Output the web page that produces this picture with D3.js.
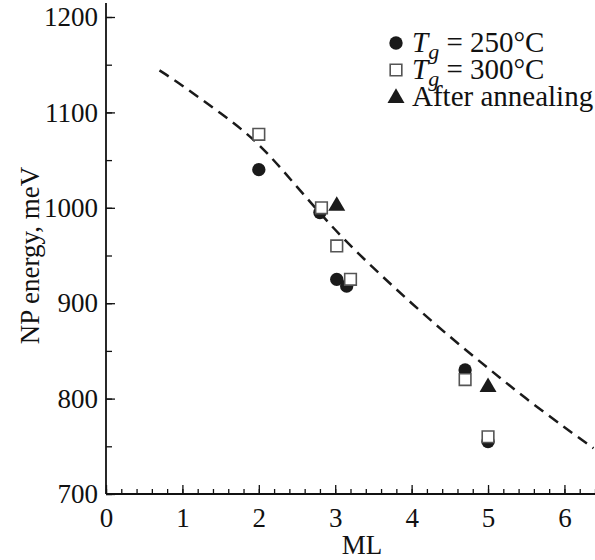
<!DOCTYPE html>
<html>
<head>
<meta charset="utf-8">
<script src="https://cdn.jsdelivr.net/npm/d3@7"></script>
<style>
  body { margin: 0; background: #fff; }
  svg text { font-family: "Liberation Serif", "Times New Roman", serif; fill: #111; }
</style>
</head>
<body>
<div id="chart"></div>
<script>
// data
var ml250 = [2.0, 2.8, 3.02, 3.15, 4.7, 5.0];
var energy250 = [1040, 995, 925, 918, 830, 755];

var ml300 = [2.0, 2.82, 3.02, 3.2, 4.7, 5.0];
var energy300 = [1077, 1000, 960, 925, 820, 760];

var mlAnneal = [3.02, 5.0];
var energyAnneal = [1003, 813];

// dashed model curve
var curveML = [0.7, 1.0, 1.5, 2.0, 2.5, 3.0, 3.5, 4.0, 4.5, 5.0, 5.5, 6.0, 6.38];
var curveEnergy = [1144, 1128, 1099, 1066, 1022, 977, 937, 900, 865, 832, 800, 770, 748];

var xTicks = [0, 1, 2, 3, 4, 5, 6];
var yTicks = [700, 800, 900, 1000, 1100, 1200];

var legendLabels = ["250°C", "300°C", "After annealing"];

var svgWidth = 595, svgHeight = 560;
var fontSize = 27;
var svg = d3.select("#chart").append("svg")
  .attr("width", svgWidth)
  .attr("height", svgHeight);

var left = 106, bottom = 494;

var xScale = d3.scaleLinear().domain([0, 6.4]).range([left, 595]);
var yScale = d3.scaleLinear().domain([700, 1200]).range([bottom, 17]);

// x axis: minor ticks every 0.2, major at integers, pointing inward
svg.append("g")
  .attr("transform", `translate(0, ${bottom})`)
  .call(d3.axisBottom(xScale).tickValues(d3.range(0, 6.41, 0.2)).tickSize(-5).tickFormat(""))
  .call(g => g.select(".domain").remove())
  .call(g => g.selectAll("line").attr("stroke", "#111").attr("stroke-width", 1.3));

svg.append("g")
  .attr("transform", `translate(0, ${bottom})`)
  .call(d3.axisBottom(xScale).tickValues(xTicks).tickSize(-9).tickPadding(14).tickFormat(d3.format("d")))
  .call(g => g.select(".domain").remove())
  .call(g => g.selectAll("line").attr("stroke", "#111").attr("stroke-width", 1.3))
  .call(g => g.selectAll("text").attr("font-size", fontSize).attr("font-family", "Liberation Serif").attr("fill", "#111"));

// y axis
svg.append("g")
  .attr("transform", `translate(${left}, 0)`)
  .call(d3.axisLeft(yScale).tickValues(d3.range(700, 1201, 50)).tickSize(-6).tickFormat(""))
  .call(g => g.select(".domain").remove())
  .call(g => g.selectAll("line").attr("stroke", "#111").attr("stroke-width", 1.3));

svg.append("g")
  .attr("transform", `translate(${left}, 0)`)
  .call(d3.axisLeft(yScale).tickValues(yTicks).tickSize(-9).tickPadding(8).tickFormat(d3.format("d")))
  .call(g => g.select(".domain").remove())
  .call(g => g.selectAll("line").attr("stroke", "#111").attr("stroke-width", 1.3))
  .call(g => g.selectAll("text").attr("font-size", fontSize).attr("font-family", "Liberation Serif").attr("fill", "#111"));

// axis lines
svg.append("line")
  .attr("x1", left).attr("x2", 595)
  .attr("y1", bottom).attr("y2", bottom)
  .attr("stroke", "#111").attr("stroke-width", 1.8);
svg.append("line")
  .attr("x1", left).attr("x2", left)
  .attr("y1", bottom).attr("y2", 3)
  .attr("stroke", "#111").attr("stroke-width", 1.8);

// axis titles
svg.append("text")
  .attr("x", xScale(3.35)).attr("y", 554)
  .attr("text-anchor", "middle")
  .attr("font-size", fontSize)
  .text("ML");

svg.append("text")
  .attr("transform", `translate(39, ${yScale(950)}) rotate(-90)`)
  .attr("text-anchor", "middle")
  .attr("font-size", fontSize)
  .text("NP energy, meV");

// dashed curve
var curveData = curveML.map((d, i) => ({ x: d, y: curveEnergy[i] }));
var line = d3.line()
  .x(d => xScale(d.x))
  .y(d => yScale(d.y))
  .curve(d3.curveNatural);

svg.append("path")
  .datum(curveData)
  .attr("d", line)
  .attr("fill", "none")
  .attr("stroke", "#1a1a1a")
  .attr("stroke-width", 2.5)
  .attr("stroke-dasharray", "11,7");

// markers
var circleSym = d3.symbol().type(d3.symbolCircle).size(140);
var squareSym = d3.symbol().type(d3.symbolSquare).size(135);
var triSym = d3.symbol().type(d3.symbolTriangle).size(125);

function drawCircle(g, x, y) {
  g.append("path").attr("d", circleSym())
    .attr("transform", `translate(${x}, ${y})`)
    .attr("fill", "#1a1a1a");
}
function drawSquare(g, x, y) {
  g.append("path").attr("d", squareSym())
    .attr("transform", `translate(${x}, ${y})`)
    .attr("fill", "#fff")
    .attr("stroke", "#555")
    .attr("stroke-width", 1.6);
}
function drawTri(g, x, y) {
  g.append("path").attr("d", triSym())
    .attr("transform", `translate(${x}, ${y + 1})`)
    .attr("fill", "#1a1a1a");
}

var pts = svg.append("g");
ml250.forEach((d, i) => drawCircle(pts, xScale(d), yScale(energy250[i])));
ml300.forEach((d, i) => drawSquare(pts, xScale(d), yScale(energy300[i])));
mlAnneal.forEach((d, i) => drawTri(pts, xScale(d), yScale(energyAnneal[i])));

// legend
var legend = svg.append("g");
var rows = [43, 70, 97];
var legendFont = 29;
drawCircle(legend, 396, rows[0]);
drawSquare(legend, 396, rows[1]);
drawTri(legend, 396, rows[2]);

[0, 1].forEach(function(i) {
  var t = legend.append("text")
    .attr("x", 412).attr("y", rows[i] + 9)
    .attr("font-size", legendFont);
  t.append("tspan").attr("font-style", "italic").text("T");
  t.append("tspan").attr("font-style", "italic").attr("font-size", 22).attr("dy", 7).text("g");
  t.append("tspan").attr("dy", -7).text(" = " + legendLabels[i]);
});
legend.append("text")
  .attr("x", 412).attr("y", rows[2] + 9)
  .attr("font-size", legendFont)
  .text(legendLabels[2]);
</script>
</body>
</html>
